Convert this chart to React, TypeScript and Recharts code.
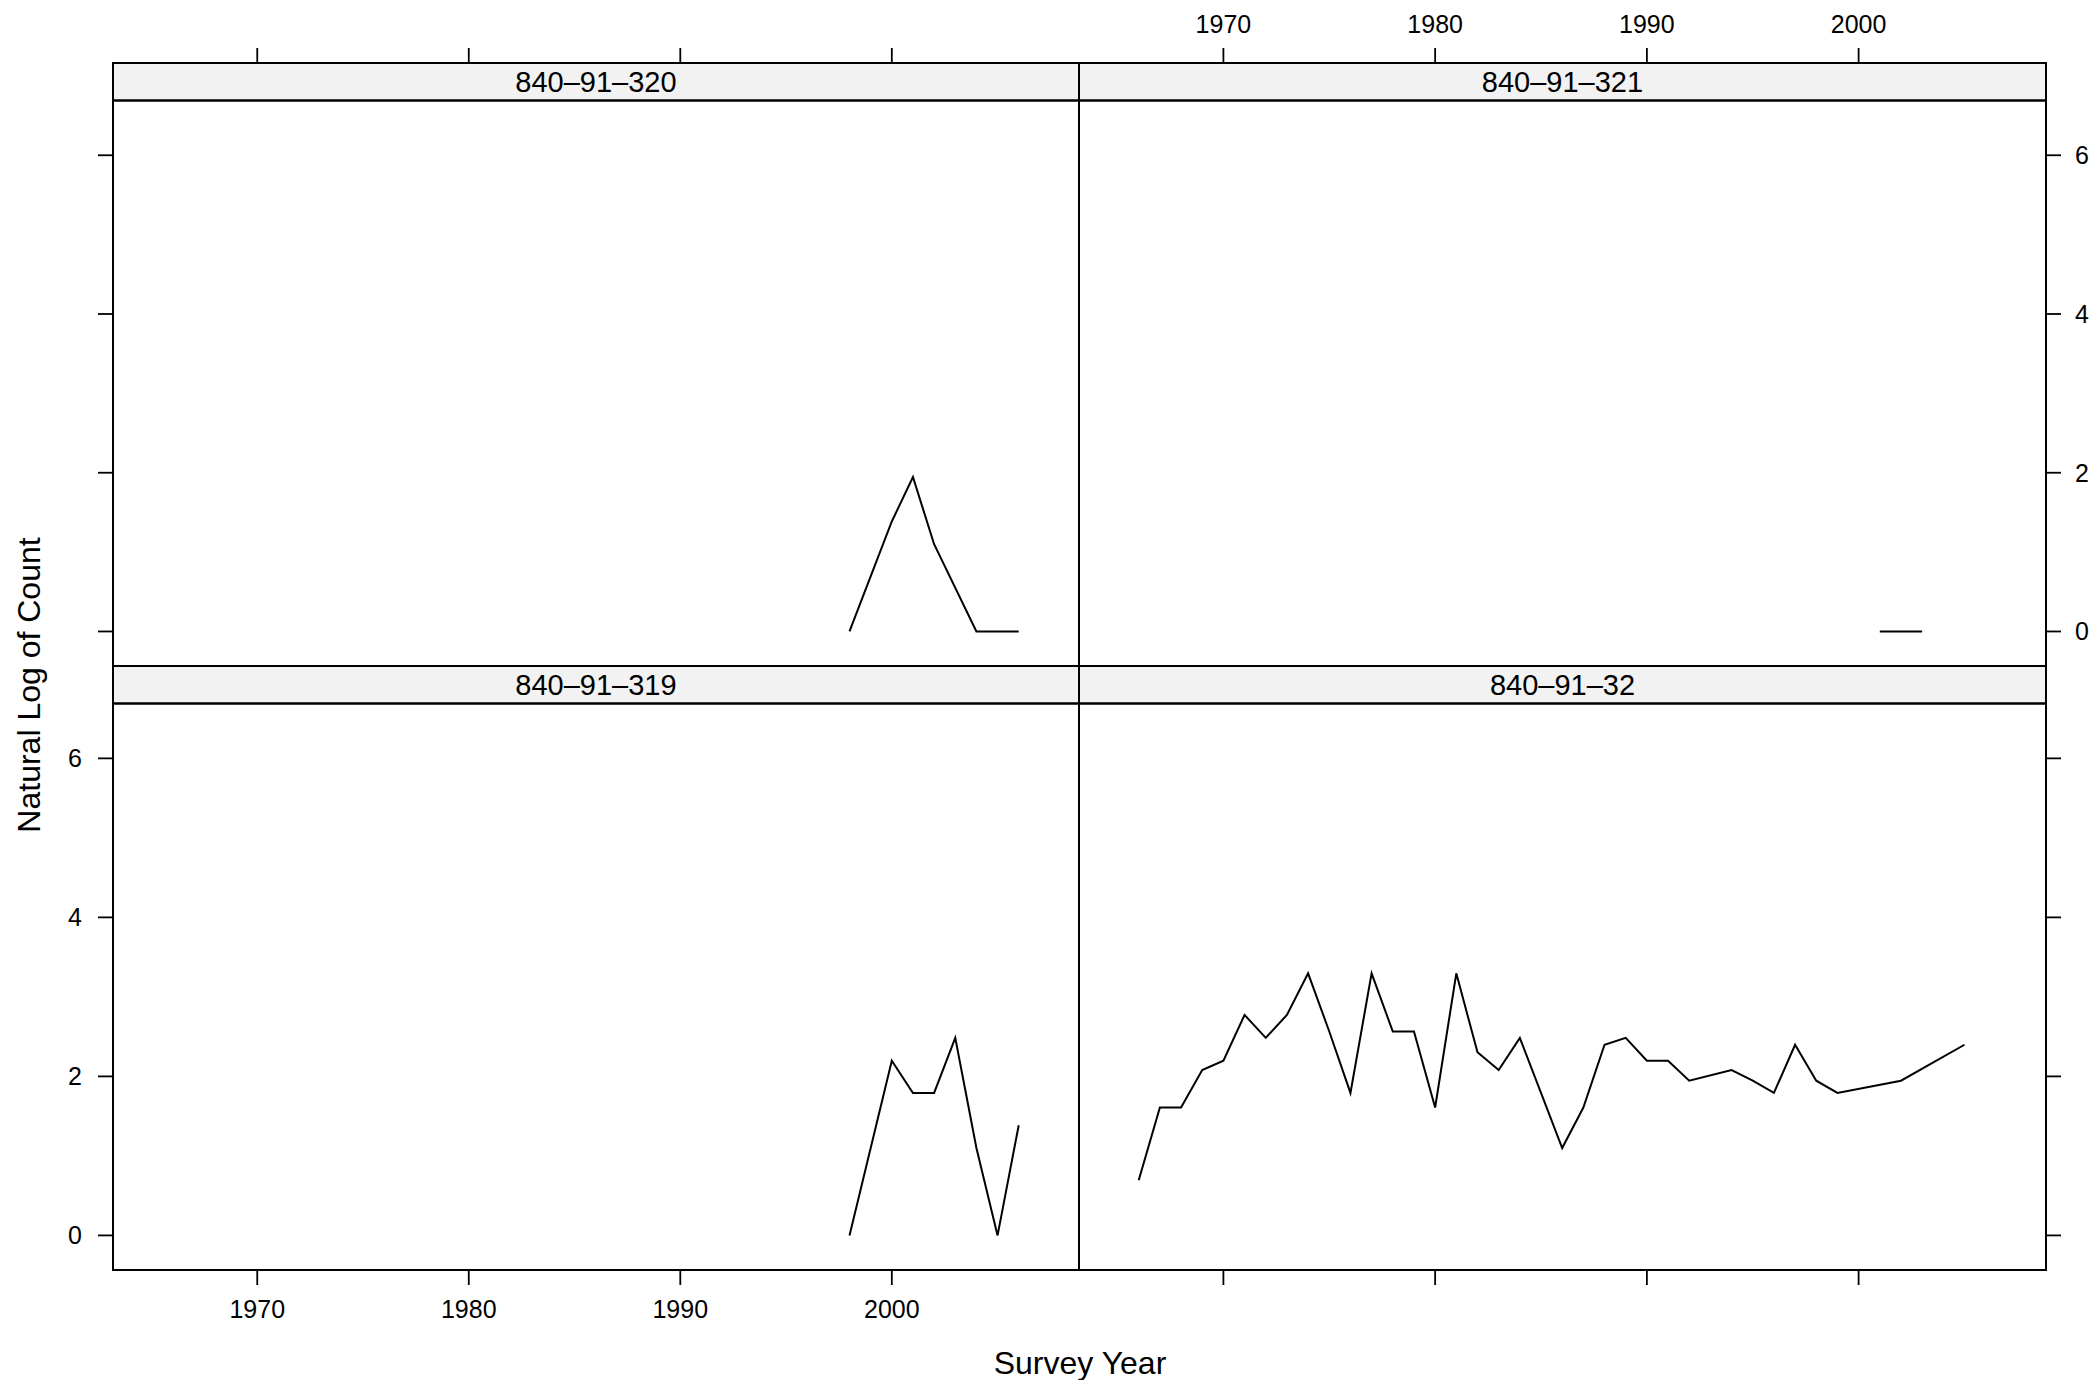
import React from 'react';
import { LineChart, Line, XAxis, YAxis, ReferenceArea } from 'recharts';

// ---------- data ----------
const panelNames = ['840\u201391\u2013320', '840\u201391\u2013321', '840\u201391\u2013319', '840\u201391\u201332'];

const years320 = [1998, 2000, 2001, 2002, 2004, 2006];
const values320 = [0, 1.386, 1.946, 1.099, 0, 0];

const years321 = [2001, 2003];
const values321 = [0, 0];

const years319 = [1998, 2000, 2001, 2002, 2003, 2004, 2005, 2006];
const values319 = [0, 2.197, 1.792, 1.792, 2.485, 1.099, 0, 1.386];

const years32 = [
  1966, 1967, 1968, 1969, 1970, 1971, 1972, 1973, 1974, 1975, 1976, 1977, 1978, 1979, 1980,
  1981, 1982, 1983, 1984, 1985, 1986, 1987, 1988, 1989, 1990, 1991, 1992, 1994, 1995, 1996,
  1997, 1998, 1999, 2002, 2005,
];
const values32 = [
  0.693, 1.609, 1.609, 2.079, 2.197, 2.773, 2.485, 2.773, 3.296, 2.565, 1.792, 3.296, 2.565, 2.565, 1.609,
  3.296, 2.303, 2.079, 2.485, 1.792, 1.099, 1.609, 2.398, 2.485, 2.197, 2.197, 1.946, 2.079, 1.946, 1.792,
  2.398, 1.946, 1.792, 1.946, 2.398,
];

const xTicks = [1970, 1980, 1990, 2000];
const yTicks = [0, 2, 4, 6];

const X_DOMAIN: [number, number] = [1963.18, 2008.85];
const Y_MIN = -0.435;
const Y_MAX = 6.69;

// ---------- layout ----------
const W = 2096;
const H = 1380;
const FONT = '"Liberation Sans", Arial, Helvetica, sans-serif';
const COLS = [113, 1079, 2046];
const ROWS = [63, 666, 1270];
const STRIP = 37.5;
const TICK_FS = 25;
const STRIP_FS = 29;
const TITLE_FS = 32;

const toRows = (xs: number[], ys: number[]) => xs.map((x, i) => ({ year: x, v: ys[i] }));
const noLabel = () => '';

type PanelProps = {
  name: string;
  data: { year: number; v: number }[];
  row: number;
  col: number;
};

function Panel({ name, data, row, col }: PanelProps) {
  const left = COLS[col];
  const right = COLS[col + 1];
  const top = ROWS[row];
  const bottom = ROWS[row + 1];
  const plotH = bottom - top;
  const yTop = Y_MAX + (STRIP * (Y_MAX - Y_MIN)) / (plotH - STRIP);

  const xOrient = row === 0 ? 'top' : 'bottom';
  const yOrient = col === 0 ? 'left' : 'right';
  const showLabels = (row === 0 && col === 1) || (row === 1 && col === 0);

  const AX_H = 60;
  const AX_W_L = 60;
  const AX_W_R = 40;

  const margin = {
    top: row === 0 ? top - AX_H : top,
    bottom: row === 1 ? H - bottom - AX_H : H - bottom,
    left: col === 0 ? left - AX_W_L : left,
    right: col === 1 ? W - right - AX_W_R : W - right,
  };

  const tickStyle = { fill: '#000', fontSize: TICK_FS, fontFamily: FONT };
  const fmt = showLabels ? undefined : noLabel;

  return (
    <div style={{ position: 'absolute', left: 0, top: 0 }}>
      <LineChart width={W} height={H} data={data} margin={margin}>
        <XAxis
          dataKey="year"
          type="number"
          domain={X_DOMAIN}
          allowDataOverflow
          ticks={xTicks}
          interval={0}
          orientation={xOrient}
          height={AX_H}
          axisLine={false}
          tickSize={15}
          tickMargin={15}
          tickLine={{ stroke: '#000', strokeWidth: 1.8 }}
          tick={tickStyle}
          tickFormatter={fmt}
        />
        <YAxis
          type="number"
          domain={[Y_MIN, yTop]}
          allowDataOverflow
          ticks={yTicks}
          interval={0}
          orientation={yOrient}
          width={col === 0 ? AX_W_L : AX_W_R}
          axisLine={false}
          tickSize={15}
          tickMargin={col === 0 ? 16 : 14}
          tickLine={{ stroke: '#000', strokeWidth: 1.8 }}
          tick={tickStyle}
          tickFormatter={fmt}
        />
        <ReferenceArea
          x1={X_DOMAIN[0]}
          x2={X_DOMAIN[1]}
          y1={Y_MAX}
          y2={yTop}
          fill="#f2f2f2"
          fillOpacity={1}
          stroke="#000"
          strokeWidth={2}
          ifOverflow="visible"
          label={{ value: name, position: 'center', fontSize: STRIP_FS, fill: '#000', fontFamily: FONT }}
        />
        <ReferenceArea
          x1={X_DOMAIN[0]}
          x2={X_DOMAIN[1]}
          y1={Y_MIN}
          y2={Y_MAX}
          fill="none"
          fillOpacity={0}
          stroke="#000"
          strokeWidth={2}
          ifOverflow="visible"
        />
        <Line
          dataKey="v"
          type="linear"
          stroke="#000"
          strokeWidth={2}
          dot={false}
          activeDot={false}
          isAnimationActive={false}
        />
      </LineChart>
    </div>
  );
}

export default function App() {
  return (
    <div
      style={{
        position: 'absolute',
        left: 0,
        top: 0,
        width: W,
        height: H,
        background: '#fff',
        fontFamily: FONT,
      }}
    >
      <Panel name={panelNames[0]} data={toRows(years320, values320)} row={0} col={0} />
      <Panel name={panelNames[1]} data={toRows(years321, values321)} row={0} col={1} />
      <Panel name={panelNames[2]} data={toRows(years319, values319)} row={1} col={0} />
      <Panel name={panelNames[3]} data={toRows(years32, values32)} row={1} col={1} />
      <svg width={W} height={H} style={{ position: 'absolute', left: 0, top: 0, pointerEvents: 'none' }}>
        <text x={1080} y={1374} textAnchor="middle" fontSize={TITLE_FS} fontFamily={FONT} fill="#000">
          Survey Year
        </text>
        <text
          x={40}
          y={685}
          textAnchor="middle"
          fontSize={TITLE_FS}
          fontFamily={FONT}
          fill="#000"
          transform="rotate(-90 40 685)"
        >
          Natural Log of Count
        </text>
      </svg>
    </div>
  );
}
